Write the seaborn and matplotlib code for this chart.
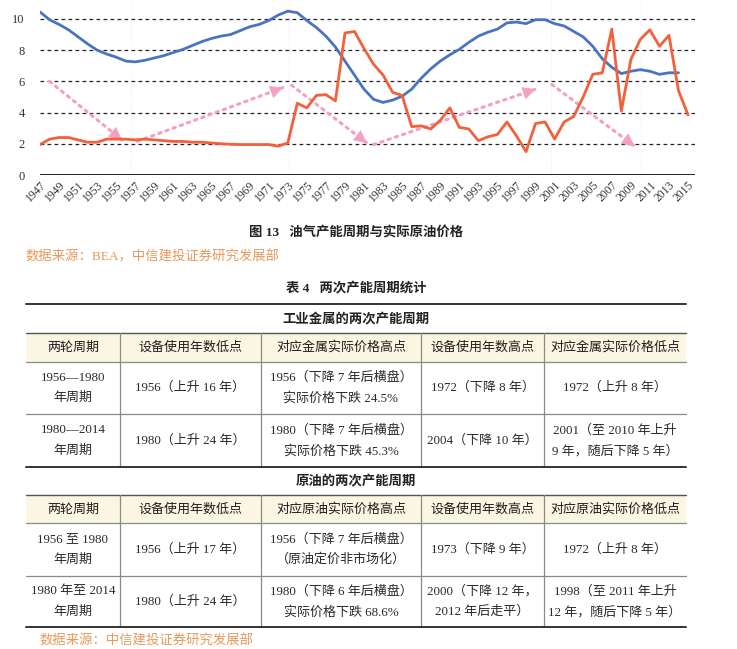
import matplotlib.pyplot as plt
import matplotlib.patches as mpatches
import seaborn as sns

# 图 13 数据：设备使用年数（蓝）与实际原油价格（红）
years = list(range(1947, 2016))
equip_age = [10.45, 9.95, 9.65, 9.3, 8.85, 8.4, 8.0, 7.75, 7.55, 7.3,
             7.25, 7.35, 7.5, 7.65, 7.85, 8.05, 8.3, 8.55, 8.75, 8.9,
             9.0, 9.25, 9.5, 9.65, 9.9, 10.25, 10.5, 10.4, 9.9, 9.45,
             8.9, 8.2, 7.3, 6.4, 5.5, 4.85, 4.65, 4.8, 5.05, 5.5,
             6.2, 6.8, 7.3, 7.7, 8.05, 8.5, 8.9, 9.15, 9.35, 9.75,
             9.8, 9.7, 9.95, 9.95, 9.7, 9.55, 9.2, 8.85, 8.25, 7.45,
             6.9, 6.5, 6.65, 6.75, 6.65, 6.45, 6.55, 6.55]          # 1947-2014
oil_price = [1.95, 2.3, 2.4, 2.4, 2.25, 2.1, 2.1, 2.3, 2.3, 2.3,
             2.25, 2.3, 2.25, 2.2, 2.15, 2.15, 2.1, 2.1, 2.05, 2.0,
             1.97, 1.95, 1.95, 1.95, 1.95, 1.85, 2.05, 4.6, 4.3, 5.1,
             5.15, 4.75, 9.1, 9.2, 8.1, 7.1, 6.4, 5.3, 5.1, 3.1,
             3.15, 2.95, 3.5, 4.3, 3.05, 2.95, 2.2, 2.45, 2.6, 3.4,
             2.5, 1.5, 3.3, 3.4, 2.3, 3.4, 3.75, 5.0, 6.45, 6.55,
             9.35, 4.1, 7.4, 8.7, 9.3, 8.25, 8.95, 5.4, 3.85]       # 1947-2015
y_ticks = [0, 2, 4, 6, 8, 10]
x_tick_years = list(range(1947, 2016, 2))

# 粉色虚线箭头（起点年份, 起点值, 终点年份, 终点值）
arrows = [(1948.0, 6.0, 1955.6, 2.25),
          (1957.2, 2.15, 1972.5, 5.6),
          (1973.4, 5.75, 1981.3, 2.05),
          (1982.0, 1.95, 1999.0, 5.5),
          (2000.7, 5.8, 2009.4, 1.85)]
cycle_marks = [1956.6, 1973.1, 2000.6, 2010.1]

# 文字
fig_caption = '图 13   油气产能周期与实际原油价格'
fig_source = '数据来源：BEA，中信建投证券研究发展部'
table_title = '表 4   两次产能周期统计'
metal_title = '工业金属的两次产能周期'
oil_title = '原油的两次产能周期'
metal_header = ['两轮周期', '设备使用年数低点', '对应金属实际价格高点',
                '设备使用年数高点', '对应金属实际价格低点']
metal_rows = [
    ['1956—1980\n年周期', '1956（上升 16 年）', '1956（下降 7 年后横盘）\n实际价格下跌 24.5%',
     '1972（下降 8 年）', '1972（上升 8 年）'],
    ['1980—2014\n年周期', '1980（上升 24 年）', '1980（下降 7 年后横盘）\n实际价格下跌 45.3%',
     '2004（下降 10 年）', '2001（至 2010 年上升\n9 年，随后下降 5 年）'],
]
oil_header = ['两轮周期', '设备使用年数低点', '对应原油实际价格高点',
              '设备使用年数高点', '对应原油实际价格低点']
oil_rows = [
    ['1956 至 1980\n年周期', '1956（上升 17 年）', '1956（下降 7 年后横盘）\n（原油定价非市场化）',
     '1973（下降 9 年）', '1972（上升 8 年）'],
    ['1980 年至 2014\n年周期', '1980（上升 24 年）', '1980（下降 6 年后横盘）\n实际价格下跌 68.6%',
     '2000（下降 12 年，\n2012 年后走平）', '1998（至 2011 年上升\n12 年，随后下降 5 年）'],
]
table_source = '数据来源：中信建投证券研究发展部'

# 颜色
blue = '#4a74c0'
red = '#f2603c'
pink = '#f4a0c4'
orange = '#e69a5c'
beige = '#fbf6e2'

sns.set_theme(style='white')
plt.rcParams['font.family'] = ['Liberation Serif', 'Noto Sans CJK SC', 'DejaVu Sans']
serif_cjk = ['Liberation Serif', 'Noto Sans CJK SC']
hei = ['Noto Sans CJK SC', 'DejaVu Sans']

W, H = 737, 649
fig = plt.figure(figsize=(W / 100, H / 100), dpi=100)

# 表格和说明文字用像素坐标的底层坐标轴
ax_t = fig.add_axes([0, 0, 1, 1], zorder=0)
ax_t.set_xlim(0, W)
ax_t.set_ylim(H, 0)
ax_t.axis('off')

# 折线图
ax = fig.add_axes([40 / W, 474 / H, 655 / W, 174 / H], zorder=1)
ax.set_facecolor('none')
for yv in y_ticks[1:]:
    ax.axhline(yv, color='#222222', lw=0.9, ls=(0, (3, 2.6)), zorder=1)
ax.axhline(0, color='#222222', lw=1.4, zorder=1)
for xm in cycle_marks:
    ax.axvline(xm, color='#f6e6ee', lw=0.8, ls=':', zorder=0)

sns.lineplot(x=years[:len(equip_age)], y=equip_age, ax=ax, color=blue, lw=2.0, zorder=3)
sns.lineplot(x=years[:len(oil_price)], y=oil_price, ax=ax, color=red, lw=2.0, zorder=4)

for x0, y0, x1, y1 in arrows:
    ax.plot([x0, x1], [y0, y1], color=pink, lw=2.2, ls=(0, (0.8, 1.7)),
            dash_capstyle='round', zorder=2)
    ax.annotate('', xy=(x1, y1), xytext=(x1 - 0.03 * (x1 - x0), y1 - 0.03 * (y1 - y0)),
                arrowprops=dict(arrowstyle='-|>,head_length=0.7,head_width=0.35',
                                color=pink, lw=0.5, shrinkA=0, shrinkB=0), zorder=2)

ax.set_xlim(1947, 1947 + 655 / 9.53)
ax.set_ylim(0, 11.15)
ax.set_yticks(y_ticks)
ax.set_yticklabels([str(v) for v in y_ticks], fontsize=9, color='#333333')
ax.set_xticks(x_tick_years)
ax.set_xticklabels([str(v) for v in x_tick_years], fontsize=8.4, color='#333333',
                   rotation=45, ha='right', rotation_mode='anchor')
ax.tick_params(axis='y', length=0, pad=11)
ax.tick_params(axis='x', length=0, pad=3)
sns.despine(ax=ax, left=True, bottom=True)
ax.set_xlabel('')
ax.set_ylabel('')

# 图注与来源
cx = 356
ax_t.text(cx, 233, fig_caption, ha='center', va='center', fontsize=9.6,
          family=serif_cjk, weight='bold', color='#222222')
ax_t.text(26, 257, fig_source, ha='left', va='center', fontsize=9.6,
          family=serif_cjk, color=orange)
ax_t.text(cx, 289, table_title, ha='center', va='center', fontsize=9.6,
          family=serif_cjk, weight='bold', color='#222222')

# 表格
col_edges = [26, 120, 261, 421, 544, 686]
col_cent = [(a + b) / 2 for a, b in zip(col_edges[:-1], col_edges[1:])]
grey = '#8a8a8a'


def draw_block(title, title_y, top, head_bot, row_bots, header, rows, first_rule):
    if first_rule:
        ax_t.plot([col_edges[0], col_edges[-1]], [first_rule, first_rule],
                  color='#333333', lw=1.4)
    ax_t.text(cx, title_y, title, ha='center', va='center', fontsize=9.6,
              family=hei, weight='bold', color='#222222')
    ax_t.add_patch(mpatches.Rectangle((col_edges[0], top), col_edges[-1] - col_edges[0],
                                      head_bot - top, facecolor=beige, edgecolor='none'))
    ax_t.plot([col_edges[0], col_edges[-1]], [top, top], color='#555555', lw=1.0)
    ax_t.plot([col_edges[0], col_edges[-1]], [head_bot, head_bot], color=grey, lw=0.9)
    for xe in col_edges[1:-1]:
        ax_t.plot([xe, xe], [top, row_bots[-1]], color=grey, lw=0.9)
    for xc, txt in zip(col_cent, header):
        ax_t.text(xc, (top + head_bot) / 2, txt, ha='center', va='center',
                  fontsize=9.4, family=hei, color='#1e1e1e')
    prev = head_bot
    for i, (rb, row) in enumerate(zip(row_bots, rows)):
        last = i == len(row_bots) - 1
        ax_t.plot([col_edges[0], col_edges[-1]], [rb, rb],
                  color='#333333' if last else grey, lw=1.4 if last else 0.9)
        mid = (prev + rb) / 2
        for xc, txt in zip(col_cent, row):
            lines = txt.split('\n')
            n = len(lines)
            for k, ln in enumerate(lines):
                yy = mid + (k - (n - 1) / 2) * 20.5
                ax_t.text(xc, yy, ln, ha='center', va='center', fontsize=9.4,
                          family=serif_cjk, color='#2a2a2a')
        prev = rb


draw_block(metal_title, 319, 333, 362, [414, 467], metal_header, metal_rows, 304)
draw_block(oil_title, 481, 495, 523, [576, 627], oil_header, oil_rows, None)

ax_t.text(40, 641, table_source, ha='left', va='center', fontsize=9.6,
          family=serif_cjk, color=orange)

fig.savefig('out.png', dpi=100)
